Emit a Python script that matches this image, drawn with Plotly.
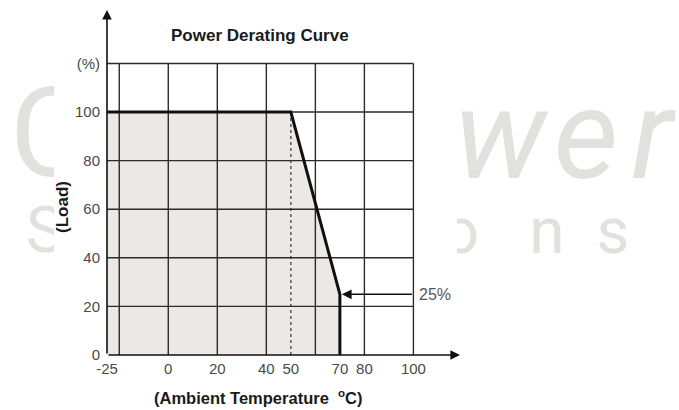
import plotly.graph_objects as go

# ---- data ----
curve_temp = [-25, 50, 70, 70]
curve_load = [100, 100, 25, 0]
x_tick_vals = [-25, 0, 20, 40, 50, 70, 80, 100]
x_tick_text = ["-25", "0", "20", "40", "50", "70", "80", "100"]
y_tick_vals = [0, 20, 40, 60, 80, 100, 120]
y_tick_text = ["0", "20", "40", "60", "80", "100", "(%)"]
grid_x = [-20, 0, 20, 40, 60, 80, 100]
grid_y = [0, 20, 40, 60, 80, 100, 120]
derate_start = 50
min_load_label = "25%"
min_load = 25

# ---- layout geometry ----
X0, X1 = -25, 119
Y0, Y1 = 0, 142
L, R, T, B = 107, 219, 10, 55
W, H = 679, 410
pw = W - L - R
ph = H - T - B


def px(p):
    return (p - L) / pw


def py(p):
    return (H - B - p) / ph


fig = go.Figure()

# shaded area under curve
fill_x = [curve_temp[0]] + curve_temp + [curve_temp[0]]
fill_y = [0] + curve_load + [0]
fig.add_trace(go.Scatter(x=fill_x, y=fill_y, fill="toself", mode="none",
                         fillcolor="#ebe8e6", hoverinfo="skip"))

# grid
gx, gy = [], []
gmin_x, gmax_x = x_tick_vals[0], grid_x[-1]
for v in grid_x:
    gx += [v, v, None]
    gy += [grid_y[0], grid_y[-1], None]
for v in grid_y[1:]:
    gx += [gmin_x, gmax_x, None]
    gy += [v, v, None]
fig.add_trace(go.Scatter(x=gx, y=gy, mode="lines",
                         line=dict(color="#2b2b2b", width=1.4), hoverinfo="skip"))

# dotted line at derating start
fig.add_trace(go.Scatter(x=[derate_start, derate_start], y=[0, curve_load[1]], mode="lines",
                         line=dict(color="#333333", width=1.2, dash="dot"), hoverinfo="skip"))

# derating curve
fig.add_trace(go.Scatter(x=curve_temp, y=curve_load, mode="lines",
                         line=dict(color="#111111", width=3), hoverinfo="skip"))

ann = []
# axis arrows
ann.append(dict(x=X1, y=0, ax=X0, ay=0, xref="x", yref="y", axref="x", ayref="y",
                text="", showarrow=True, arrowhead=2, arrowsize=1.2, arrowwidth=1.6,
                arrowcolor="#111"))
ann.append(dict(x=X0, y=Y1, ax=X0, ay=0, xref="x", yref="y", axref="x", ayref="y",
                text="", showarrow=True, arrowhead=2, arrowsize=1.2, arrowwidth=1.6,
                arrowcolor="#111"))
# 25% arrow
ann.append(dict(x=curve_temp[2], y=min_load, ax=grid_x[-1], ay=min_load,
                xref="x", yref="y", axref="x", ayref="y",
                text="", showarrow=True, arrowhead=2, arrowsize=1.3, arrowwidth=1.5,
                arrowcolor="#111", standoff=2))
ann.append(dict(x=px(417), y=min_load, xref="paper", yref="y", text=min_load_label,
                showarrow=False, xanchor="left", yanchor="middle",
                font=dict(size=16, color="#555555", family="Liberation Sans, Arial")))

# titles
bold = dict(family="Liberation Sans, Arial", color="#1a1a1a", weight="bold")
ann.append(dict(x=px(260), y=py(35), xref="paper", yref="paper", text="Power Derating Curve",
                xanchor="center", yanchor="middle",
                showarrow=False, font=dict(size=17, **bold)))
ann.append(dict(x=px(258), y=py(397), xref="paper", yref="paper",
                text="(Ambient Temperature&nbsp; <sup>o</sup>C)",
                xanchor="center", yanchor="middle",
                showarrow=False, font=dict(size=16.5, **bold)))
ann.append(dict(x=px(62), y=py(207), xref="paper", yref="paper", text="(Load)", textangle=-90,
                xanchor="center", yanchor="middle",
                showarrow=False, font=dict(size=17, **bold)))

# watermark (drawn below the chart, partly hidden by the white chart panel)
wm = "#e3e1dd"
shapes = []


def wm_label(txt, cx, cy, size, italic=False):
    half = 150
    f = dict(size=size, color=wm, family="Roboto")
    shapes.append(dict(type="rect", xref="paper", yref="paper", layer="below",
                       x0=px(cx - half), x1=px(cx + half), y0=py(cy + half), y1=py(cy - half),
                       line=dict(width=0), fillcolor="rgba(0,0,0,0)",
                       label=dict(text=f"<i>{txt}</i>" if italic else txt,
                                  textposition="middle center", font=f)))


wm_label("C", 50, 124, 124)
wm_label("w", 500, 126, 126, True)
wm_label("e", 586, 126, 126, True)
wm_label("r", 652, 126, 126, True)
wm_label("S", 45, 225, 64)
wm_label("o", 461, 226, 64)
wm_label("n", 547, 226, 64)
wm_label("s", 613, 226, 64)
# white chart panel
shapes.append(dict(type="rect", xref="paper", yref="paper", layer="below",
                   x0=px(54), x1=px(457), y0=py(H), y1=py(0),
                   line=dict(width=0), fillcolor="white"))

fig.update_layout(
    width=W, height=H,
    margin=dict(l=L, r=R, t=T, b=B),
    paper_bgcolor="white", plot_bgcolor="rgba(0,0,0,0)",
    showlegend=False,
    annotations=ann,
    shapes=shapes,
    xaxis=dict(range=[X0, X1], showgrid=False, zeroline=False, showline=False,
               tickvals=x_tick_vals, ticktext=x_tick_text, ticks="", ticklabelstandoff=3,
               tickfont=dict(size=15, color="#4a4a4a", family="Liberation Sans, Arial"),
               fixedrange=True),
    yaxis=dict(range=[Y0, Y1], showgrid=False, zeroline=False, showline=False,
               tickvals=y_tick_vals, ticktext=y_tick_text, ticks="", ticklabelstandoff=6,
               tickfont=dict(size=15, color="#4a4a4a", family="Liberation Sans, Arial"),
               fixedrange=True),
)

fig.write_html("out.html", config={"displayModeBar": False},
               post_script="document.body.style.margin='0';")
